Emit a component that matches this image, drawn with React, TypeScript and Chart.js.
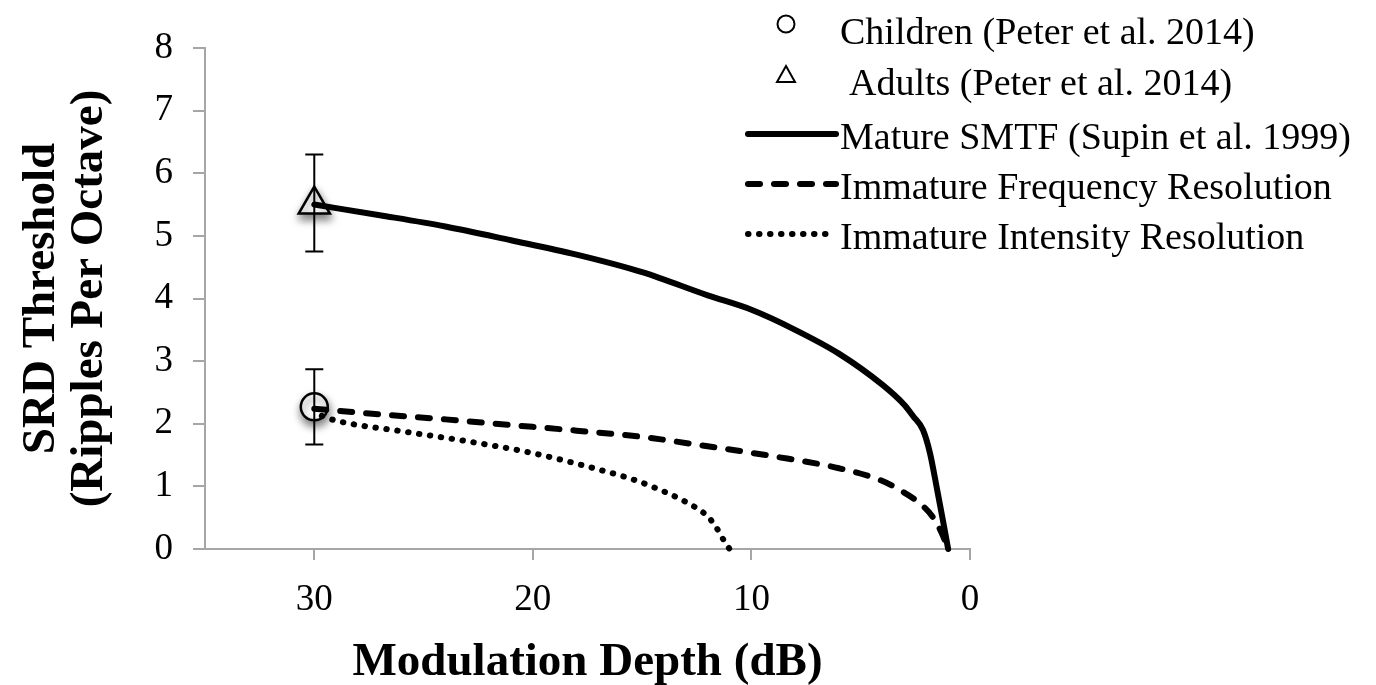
import React, { useEffect, useRef } from 'react';
import { Chart, registerables } from 'chart.js';

Chart.register(...registerables);

// ---- data ----
const xTickValues = [30, 20, 10, 0];
const yTickValues = [0, 1, 2, 3, 4, 5, 6, 7, 8];

const childrenDepth = [30];
const childrenSRD = [2.27];
const childrenLow = [1.67];
const childrenHigh = [2.87];

const adultsDepth = [30];
const adultsSRD = [5.5];
const adultsLow = [4.75];
const adultsHigh = [6.3];

const matureDepth = [30, 27, 24, 21, 18, 15, 12, 10, 8, 6, 4, 3, 2.6, 2.15, 1.83, 1.5, 1.24, 1.0];
const matureSRD = [5.5, 5.33, 5.15, 4.93, 4.7, 4.42, 4.05, 3.82, 3.5, 3.12, 2.62, 2.3, 2.12, 1.9, 1.53, 0.94, 0.46, 0];

const freqDepth = [30, 27, 24, 21, 18, 15, 12, 9, 6, 4.1, 3.2, 2.3, 1.7, 1.3, 1.0];
const freqSRD = [2.24, 2.15, 2.07, 1.98, 1.89, 1.79, 1.64, 1.48, 1.29, 1.1, 0.94, 0.73, 0.51, 0.26, 0];

const intensityDepth = [30, 29, 26, 23, 20, 17, 15.5, 14.5, 13, 12, 11.6, 11.3, 11.0];
const intensitySRD = [2.17, 2.05, 1.88, 1.72, 1.53, 1.27, 1.12, 0.99, 0.75, 0.52, 0.34, 0.16, 0];

const legendLabels = [
  'Children (Peter et al. 2014)',
  'Adults (Peter et al. 2014)',
  'Mature SMTF (Supin et al. 1999)',
  'Immature Frequency Resolution',
  'Immature Intensity Resolution',
];

const xTitle = 'Modulation Depth (dB)';
const yTitle = ['SRD Threshold', '(Ripples Per Octave)'];

const SERIF = "'Liberation Serif', 'Times New Roman', serif";
const AXIS_GRAY = '#a6a6a6';

const zip = (xs: number[], ys: number[]) => xs.map((x, i) => ({ x, y: ys[i] }));

const markerShadowPlugin = {
  id: 'markerShadow',
  beforeDatasetDraw(chart: any, args: any) {
    const ds = chart.data.datasets[args.index];
    if (ds.isMarker) {
      const ctx = chart.ctx;
      ctx.save();
      ctx.shadowColor = 'rgba(0,0,0,0.5)';
      ctx.shadowBlur = 9;
      ctx.shadowOffsetX = 1;
      ctx.shadowOffsetY = 5;
    }
  },
  afterDatasetDraw(chart: any, args: any) {
    const ds = chart.data.datasets[args.index];
    if (ds.isMarker) chart.ctx.restore();
  },
};

const errorBarPlugin = {
  id: 'errorBars',
  afterDatasetsDraw(chart: any) {
    const ctx = chart.ctx;
    const xs = chart.scales.x;
    const ys = chart.scales.y;
    chart.data.datasets.forEach((ds: any) => {
      if (!ds.errLow) return;
      ds.data.forEach((p: any, i: number) => {
        const px = xs.getPixelForValue(p.x);
        const lo = ys.getPixelForValue(ds.errLow[i]);
        const hi = ys.getPixelForValue(ds.errHigh[i]);
        ctx.save();
        ctx.strokeStyle = '#000';
        ctx.lineWidth = 2;
        ctx.beginPath();
        ctx.moveTo(px, hi);
        ctx.lineTo(px, lo);
        ctx.moveTo(px - 9, hi);
        ctx.lineTo(px + 9, hi);
        ctx.moveTo(px - 9, lo);
        ctx.lineTo(px + 9, lo);
        ctx.stroke();
        ctx.restore();
      });
    });
  },
};

const customLegendPlugin = {
  id: 'customLegend',
  afterDraw(chart: any) {
    const ctx = chart.ctx;
    const rows = [34, 85, 139, 189, 239];
    const textX = [840, 849, 840, 840, 840];
    const sampleX0 = 748;
    const sampleX1 = 836;
    const markerX = 786;
    ctx.save();
    ctx.font = `38px ${SERIF}`;
    ctx.fillStyle = '#000';
    ctx.textBaseline = 'middle';
    ctx.textAlign = 'left';
    chart.data.datasets.forEach((ds: any, i: number) => {
      const cy = rows[i];
      ctx.save();
      ctx.strokeStyle = '#000';
      if (ds.isMarker) {
        ctx.lineWidth = 2;
        ctx.fillStyle = '#fff';
        ctx.beginPath();
        if (ds.pointStyle === 'circle') {
          ctx.arc(markerX, cy - 10, 8.5, 0, Math.PI * 2);
        } else {
          ctx.moveTo(markerX, cy - 19);
          ctx.lineTo(markerX + 9, cy - 3);
          ctx.lineTo(markerX - 9, cy - 3);
          ctx.closePath();
        }
        ctx.fill();
        ctx.stroke();
      } else {
        ctx.lineWidth = ds.borderWidth;
        ctx.lineCap = 'round';
        ctx.setLineDash(ds.borderDash || []);
        ctx.beginPath();
        ctx.moveTo(sampleX0, cy - 5);
        ctx.lineTo(sampleX1, cy - 5);
        ctx.stroke();
      }
      ctx.restore();
      ctx.fillText(legendLabels[i], textX[i], cy);
    });
    ctx.restore();
  },
};

export default function App() {
  const canvasRef = useRef<HTMLCanvasElement | null>(null);

  useEffect(() => {
    document.body.style.margin = '0';
    const canvas = canvasRef.current;
    if (!canvas) return;

    const chart = new Chart(canvas, {
      type: 'scatter',
      data: {
        datasets: [
          {
            label: legendLabels[0],
            data: zip(childrenDepth, childrenSRD),
            isMarker: true,
            errLow: childrenLow,
            errHigh: childrenHigh,
            pointStyle: 'circle',
            pointRadius: 13.5,
            borderWidth: 2.5,
            borderColor: '#000',
            backgroundColor: '#fff',
            showLine: false,
            order: 2,
          } as any,
          {
            label: legendLabels[1],
            data: zip(adultsDepth, adultsSRD),
            isMarker: true,
            errLow: adultsLow,
            errHigh: adultsHigh,
            pointStyle: 'triangle',
            pointRadius: 18,
            borderWidth: 2.5,
            borderColor: '#000',
            backgroundColor: '#fff',
            showLine: false,
            order: 2,
          } as any,
          {
            label: legendLabels[2],
            data: zip(matureDepth, matureSRD),
            showLine: true,
            borderColor: '#000',
            borderWidth: 6,
            pointRadius: 0,
            borderCapStyle: 'round',
            borderJoinStyle: 'round',
            cubicInterpolationMode: 'monotone',
            clip: false,
            order: 0,
          } as any,
          {
            label: legendLabels[3],
            data: zip(freqDepth, freqSRD),
            showLine: true,
            borderColor: '#000',
            borderWidth: 6,
            borderDash: [12, 14],
            pointRadius: 0,
            borderCapStyle: 'round',
            borderJoinStyle: 'round',
            cubicInterpolationMode: 'monotone',
            clip: false,
            order: 0,
          } as any,
          {
            label: legendLabels[4],
            data: zip(intensityDepth, intensitySRD),
            showLine: true,
            borderColor: '#000',
            borderWidth: 6,
            borderDash: [0.5, 10.5],
            borderDashOffset: 3,
            pointRadius: 0,
            borderCapStyle: 'round',
            borderJoinStyle: 'round',
            cubicInterpolationMode: 'monotone',
            clip: false,
            order: 0,
          } as any,
        ],
      },
      options: {
        animation: false,
        responsive: true,
        maintainAspectRatio: false,
        layout: { padding: { top: 48, right: 406, bottom: 0, left: 0 } },
        plugins: {
          legend: { display: false },
          tooltip: { enabled: false },
        },
        scales: {
          x: {
            type: 'linear',
            reverse: true,
            min: 0,
            max: 35,
            afterBuildTicks: (scale: any) => {
              scale.ticks = xTickValues.map((v) => ({ value: v }));
            },
            afterFit: (scale: any) => {
              scale.height = 136;
            },
            grid: {
              display: true,
              drawOnChartArea: false,
              drawTicks: true,
              tickLength: 11,
              color: AXIS_GRAY,
              lineWidth: 2,
            },
            border: { display: true, color: AXIS_GRAY, width: 2 },
            ticks: {
              color: '#000',
              font: { family: SERIF, size: 37 },
              padding: 18,
              maxRotation: 0,
              autoSkip: false,
            },
            title: {
              display: true,
              text: xTitle,
              color: '#000',
              font: { family: SERIF, size: 47, weight: 'bold', lineHeight: 0.9 },
              padding: { top: 0, bottom: 1 },
            },
          },
          y: {
            type: 'linear',
            min: 0,
            max: 8,
            afterBuildTicks: (scale: any) => {
              scale.ticks = yTickValues.map((v) => ({ value: v }));
            },
            afterFit: (scale: any) => {
              scale.width = 205;
            },
            grid: {
              display: true,
              drawOnChartArea: false,
              drawTicks: true,
              tickLength: 12,
              color: AXIS_GRAY,
              lineWidth: 2,
            },
            border: { display: true, color: AXIS_GRAY, width: 2 },
            ticks: {
              color: '#000',
              font: { family: SERIF, size: 37 },
              padding: 20,
              autoSkip: false,
            },
            title: {
              display: true,
              text: yTitle,
              color: '#000',
              font: { family: SERIF, size: 47, weight: 'bold', lineHeight: 1.02 },
              padding: { top: 18, bottom: 0 },
            },
          },
        },
      } as any,
      plugins: [markerShadowPlugin, errorBarPlugin, customLegendPlugin],
    });

    return () => chart.destroy();
  }, []);

  return (
    <div style={{ position: 'fixed', left: 0, top: 0, width: 1376, height: 685, background: '#fff' }}>
      <canvas ref={canvasRef} />
    </div>
  );
}
